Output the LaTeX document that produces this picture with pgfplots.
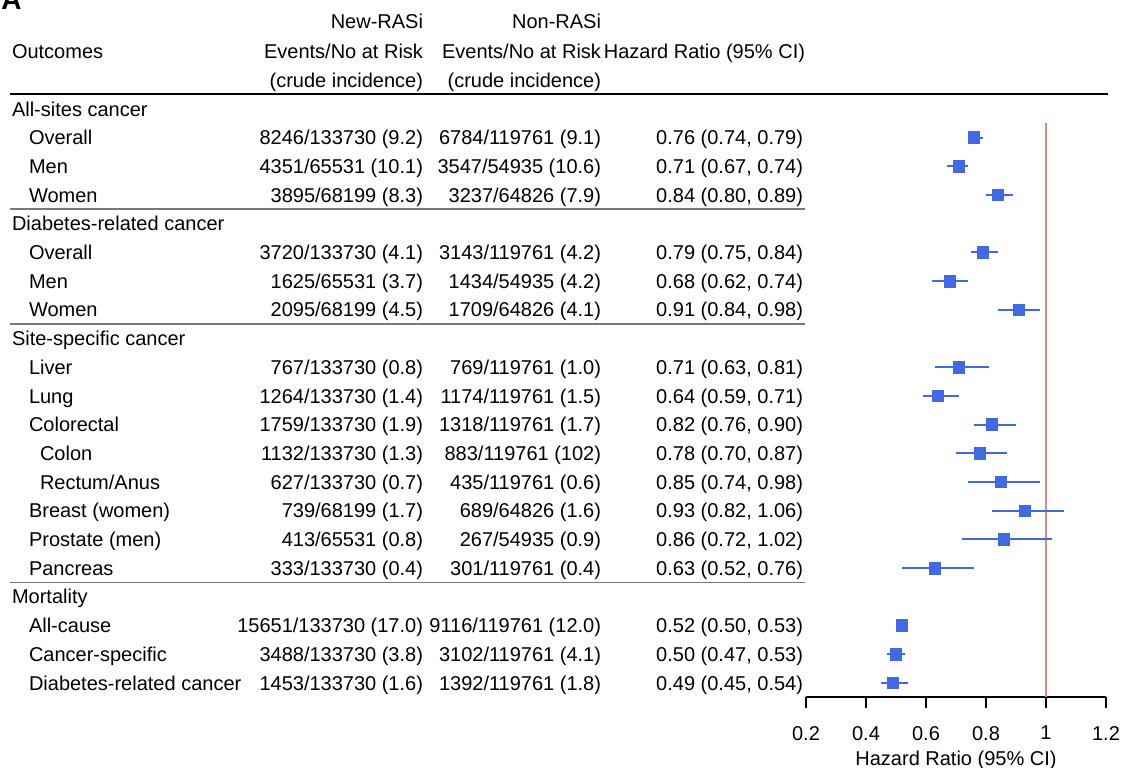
\documentclass[border=0pt]{standalone}
\usepackage{pgfplots}
\usepackage{pgfplotstable}
\pgfplotsset{compat=1.18}
\usepackage{fontspec}
\setmainfont{Liberation Sans}
\definecolor{rblue}{RGB}{65,105,225}
\definecolor{refred}{RGB}{222,135,135}
\definecolor{sepgray}{RGB}{120,120,120}

\pgfplotstableread{
k hr lo hi
1 0.76 0.74 0.79
2 0.71 0.67 0.74
3 0.84 0.80 0.89
5 0.79 0.75 0.84
6 0.68 0.62 0.74
7 0.91 0.84 0.98
9 0.71 0.63 0.81
10 0.64 0.59 0.71
11 0.82 0.76 0.90
12 0.78 0.70 0.87
13 0.85 0.74 0.98
14 0.93 0.82 1.06
15 0.86 0.72 1.02
16 0.63 0.52 0.76
18 0.52 0.50 0.53
19 0.50 0.47 0.53
20 0.49 0.45 0.54
}\hrdata

\newcommand{\rowtext}[6]{%
  \pgfmathsetmacro\yy{-(116+28.7*#1)}%
  \node[t,anchor=base west] at (#2,\yy) {#3};%
  \node[t,anchor=base east] at (423,\yy) {#4};%
  \node[t,anchor=base east] at (601,\yy) {#5};%
  \node[t,anchor=base east] at (803,\yy) {#6};%
}

\begin{document}
\fontsize{10}{12}\selectfont
\begin{tikzpicture}[x=0.5pt,y=0.5pt,
  t/.style={inner sep=0pt, outer sep=0pt, font=\fontsize{10}{12}\selectfont}]
\useasboundingbox (0,0) rectangle (1122,-767);

% panel letter (cut off at top)
\node[inner sep=0pt, anchor=base west, font=\bfseries\fontsize{14}{16}\selectfont] at (1,-9) {A};

% header
\node[t,anchor=base east] at (423,-28) {New-RASi};
\node[t,anchor=base east] at (423,-58) {Events/No at Risk};
\node[t,anchor=base east] at (423,-87) {(crude incidence)};
\node[t,anchor=base east] at (601,-28) {Non-RASi};
\node[t,anchor=base east] at (601,-58) {Events/No at Risk};
\node[t,anchor=base east] at (601,-87) {(crude incidence)};
\node[t,anchor=base west] at (12,-58) {Outcomes};
\node[t,anchor=base east] at (805,-58) {Hazard Ratio (95\% CI)};
\draw[black, line width=1pt] (10,-94) -- (1108,-94);

% rows
\rowtext{0}{12}{All-sites cancer}{}{}{}
\rowtext{1}{29}{Overall}{8246/133730 (9.2)}{6784/119761 (9.1)}{0.76 (0.74, 0.79)}
\rowtext{2}{29}{Men}{4351/65531 (10.1)}{3547/54935 (10.6)}{0.71 (0.67, 0.74)}
\rowtext{3}{29}{Women}{3895/68199 (8.3)}{3237/64826 (7.9)}{0.84 (0.80, 0.89)}
\rowtext{4}{12}{Diabetes-related cancer}{}{}{}
\rowtext{5}{29}{Overall}{3720/133730 (4.1)}{3143/119761 (4.2)}{0.79 (0.75, 0.84)}
\rowtext{6}{29}{Men}{1625/65531 (3.7)}{1434/54935 (4.2)}{0.68 (0.62, 0.74)}
\rowtext{7}{29}{Women}{2095/68199 (4.5)}{1709/64826 (4.1)}{0.91 (0.84, 0.98)}
\rowtext{8}{12}{Site-specific cancer}{}{}{}
\rowtext{9}{29}{Liver}{767/133730 (0.8)}{769/119761 (1.0)}{0.71 (0.63, 0.81)}
\rowtext{10}{29}{Lung}{1264/133730 (1.4)}{1174/119761 (1.5)}{0.64 (0.59, 0.71)}
\rowtext{11}{29}{Colorectal}{1759/133730 (1.9)}{1318/119761 (1.7)}{0.82 (0.76, 0.90)}
\rowtext{12}{40}{Colon}{1132/133730 (1.3)}{883/119761 (102)}{0.78 (0.70, 0.87)}
\rowtext{13}{40}{Rectum/Anus}{627/133730 (0.7)}{435/119761 (0.6)}{0.85 (0.74, 0.98)}
\rowtext{14}{29}{Breast (women)}{739/68199 (1.7)}{689/64826 (1.6)}{0.93 (0.82, 1.06)}
\rowtext{15}{29}{Prostate (men)}{413/65531 (0.8)}{267/54935 (0.9)}{0.86 (0.72, 1.02)}
\rowtext{16}{29}{Pancreas}{333/133730 (0.4)}{301/119761 (0.4)}{0.63 (0.52, 0.76)}
\rowtext{17}{12}{Mortality}{}{}{}
\rowtext{18}{29}{All-cause}{15651/133730 (17.0)}{9116/119761 (12.0)}{0.52 (0.50, 0.53)}
\rowtext{19}{29}{Cancer-specific}{3488/133730 (3.8)}{3102/119761 (4.1)}{0.50 (0.47, 0.53)}
\rowtext{20}{29}{Diabetes-related cancer}{1453/133730 (1.6)}{1392/119761 (1.8)}{0.49 (0.45, 0.54)}

% separators
\draw[sepgray, line width=0.8pt] (10,-209) -- (805,-209);
\draw[sepgray, line width=0.8pt] (10,-324) -- (805,-324);
\draw[sepgray, line width=0.8pt] (10,-582.5) -- (805,-582.5);

\node[t,anchor=base] at (956,-765) {Hazard Ratio (95\% CI)};

\begin{axis}[
  at={(403pt,-348.5pt)}, anchor=south west,
  x=150pt, y=14.35pt,
  xmin=0.2, xmax=1.2, ymin=-20.49, ymax=-0.49,
  axis x line*=bottom, axis y line=none,
  clip=false,
  xtick={0.2,0.4,0.6,0.8,1,1.2},
  tick align=outside, major tick length=5.5pt,
  x axis line style={line width=0.75pt, black},
  xtick style={line width=0.75pt, black},
  xticklabel style={font=\fontsize{10}{12}\selectfont, yshift=-5.5pt},
  /pgf/number format/assume math mode=true,
  ]
\addplot[refred, line width=1pt] coordinates {(1,-0.49) (1,-20.49)};
\addplot[only marks, mark=square*, mark size=2.9pt, color=rblue,
  error bars/.cd, x dir=both, x explicit, error mark=none,
  error bar style={line width=1pt, rblue}]
  table[x=hr, y expr=-\thisrow{k},
        x error plus expr=\thisrow{hi}-\thisrow{hr},
        x error minus expr=\thisrow{hr}-\thisrow{lo}] {\hrdata};
\end{axis}
\end{tikzpicture}
\end{document}
